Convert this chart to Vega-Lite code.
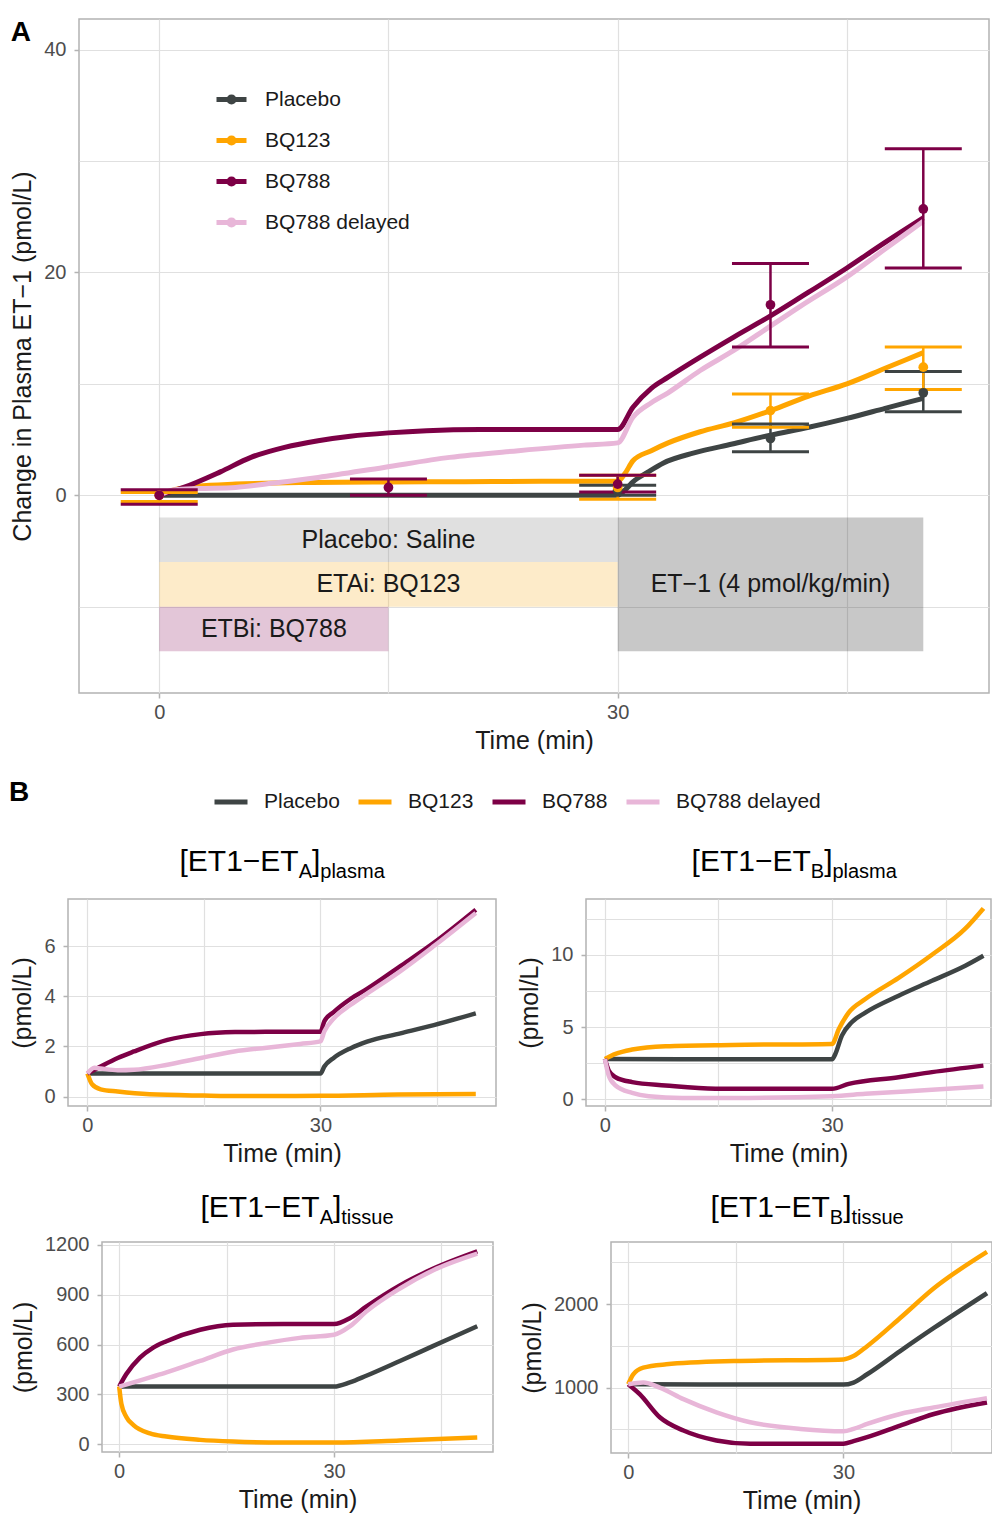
{
  "$schema": "https://vega.github.io/schema/vega-lite/v6.json",
  "padding": {"left": 9, "top": 18, "right": 0, "bottom": 0},
  "background": "white",
  "datasets": {
    "lineA": [
      {"g":"Placebo","t":0,"v":0},{"g":"Placebo","t":10,"v":0},{"g":"Placebo","t":20,"v":0},{"g":"Placebo","t":30,"v":0},{"g":"Placebo","t":30.5,"v":0.5},{"g":"Placebo","t":31,"v":1.2},{"g":"Placebo","t":32,"v":2.1},{"g":"Placebo","t":33,"v":2.9},{"g":"Placebo","t":35,"v":3.8},{"g":"Placebo","t":37.5,"v":4.6},{"g":"Placebo","t":40,"v":5.4},{"g":"Placebo","t":42.5,"v":6.1},{"g":"Placebo","t":45,"v":6.9},{"g":"Placebo","t":47.5,"v":7.8},{"g":"Placebo","t":50,"v":8.7},
      {"g":"BQ123","t":0,"v":0},{"g":"BQ123","t":1,"v":0.5},{"g":"BQ123","t":2.5,"v":0.8},{"g":"BQ123","t":5,"v":1.0},{"g":"BQ123","t":10,"v":1.15},{"g":"BQ123","t":15,"v":1.2},{"g":"BQ123","t":20,"v":1.22},{"g":"BQ123","t":25,"v":1.25},{"g":"BQ123","t":30,"v":1.25},{"g":"BQ123","t":30.5,"v":2.0},{"g":"BQ123","t":31,"v":3.1},{"g":"BQ123","t":32.2,"v":4.0},{"g":"BQ123","t":33.3,"v":4.7},{"g":"BQ123","t":35.4,"v":5.7},{"g":"BQ123","t":37.6,"v":6.5},{"g":"BQ123","t":40,"v":7.6},{"g":"BQ123","t":42.5,"v":8.9},{"g":"BQ123","t":45,"v":10.0},{"g":"BQ123","t":47.5,"v":11.4},{"g":"BQ123","t":50,"v":12.8},
      {"g":"BQ788","t":0,"v":0},{"g":"BQ788","t":1.6,"v":0.7},{"g":"BQ788","t":4,"v":2.1},{"g":"BQ788","t":6,"v":3.4},{"g":"BQ788","t":8.2,"v":4.3},{"g":"BQ788","t":10.4,"v":4.9},{"g":"BQ788","t":12.5,"v":5.3},{"g":"BQ788","t":15,"v":5.6},{"g":"BQ788","t":17.5,"v":5.8},{"g":"BQ788","t":21,"v":5.9},{"g":"BQ788","t":25,"v":5.9},{"g":"BQ788","t":30,"v":5.9},{"g":"BQ788","t":31,"v":7.9},{"g":"BQ788","t":32.2,"v":9.6},{"g":"BQ788","t":33.3,"v":10.6},{"g":"BQ788","t":35.4,"v":12.4},{"g":"BQ788","t":37.6,"v":14.2},{"g":"BQ788","t":40,"v":16.1},{"g":"BQ788","t":42,"v":17.8},{"g":"BQ788","t":45,"v":20.4},{"g":"BQ788","t":47.5,"v":22.7},{"g":"BQ788","t":50,"v":24.9},
      {"g":"BQ788 delayed","t":0,"v":0},{"g":"BQ788 delayed","t":1,"v":0.5},{"g":"BQ788 delayed","t":2.5,"v":0.6},{"g":"BQ788 delayed","t":5,"v":0.7},{"g":"BQ788 delayed","t":7.5,"v":1.1},{"g":"BQ788 delayed","t":10.4,"v":1.6},{"g":"BQ788 delayed","t":14.7,"v":2.5},{"g":"BQ788 delayed","t":19,"v":3.4},{"g":"BQ788 delayed","t":23.5,"v":4.0},{"g":"BQ788 delayed","t":27.8,"v":4.5},{"g":"BQ788 delayed","t":30,"v":4.7},{"g":"BQ788 delayed","t":31,"v":7.0},{"g":"BQ788 delayed","t":32.2,"v":8.3},{"g":"BQ788 delayed","t":33.3,"v":9.2},{"g":"BQ788 delayed","t":35.4,"v":11.2},{"g":"BQ788 delayed","t":37.6,"v":13.0},{"g":"BQ788 delayed","t":39.8,"v":15.0},{"g":"BQ788 delayed","t":42,"v":17.0},{"g":"BQ788 delayed","t":45,"v":19.6},{"g":"BQ788 delayed","t":47.5,"v":22.1},{"g":"BQ788 delayed","t":50,"v":24.6}
    ],
    "obsA": [
      {"g":"Placebo","t":30,"v":0.45,"lo":0.0,"hi":0.9},{"g":"Placebo","t":40,"v":5.1,"lo":3.9,"hi":6.4},{"g":"Placebo","t":50,"v":9.2,"lo":7.5,"hi":11.1},
      {"g":"BQ123","t":0,"v":0,"lo":-0.55,"hi":0.25},{"g":"BQ123","t":30,"v":0.7,"lo":-0.35,"hi":1.8},{"g":"BQ123","t":40,"v":7.6,"lo":6.1,"hi":9.1},{"g":"BQ123","t":50,"v":11.5,"lo":9.5,"hi":13.3},
      {"g":"BQ788","t":0,"v":0,"lo":-0.8,"hi":0.5},{"g":"BQ788","t":15,"v":0.7,"lo":0.0,"hi":1.45},{"g":"BQ788","t":30,"v":1.0,"lo":0.3,"hi":1.8},{"g":"BQ788","t":40,"v":17.1,"lo":13.3,"hi":20.8},{"g":"BQ788","t":50,"v":25.7,"lo":20.4,"hi":31.1}
    ],
    "boxes": [
      {"label":"Placebo: Saline","k":"saline","t0":0,"t1":30,"v0":-6,"v1":-2,"tm":15,"vm":-4},
      {"label":"ETAi: BQ123","k":"eta","t0":0,"t1":30,"v0":-10,"v1":-6,"tm":15,"vm":-8},
      {"label":"ETBi: BQ788","k":"etb","t0":0,"t1":15,"v0":-14,"v1":-10,"tm":7.5,"vm":-12},
      {"label":"ET−1 (4 pmol/kg/min)","k":"et1","t0":30,"t1":50,"v0":-14,"v1":-2,"tm":40,"vm":-8}
    ],
    "tl": [
      {"g":"Placebo","t":0,"v":0.92},{"g":"Placebo","t":10,"v":0.92},{"g":"Placebo","t":20,"v":0.92},{"g":"Placebo","t":30,"v":0.92},{"g":"Placebo","t":30.5,"v":1.2},{"g":"Placebo","t":31.7,"v":1.54},{"g":"Placebo","t":33.9,"v":1.93},{"g":"Placebo","t":36,"v":2.19},{"g":"Placebo","t":40.3,"v":2.52},{"g":"Placebo","t":44.6,"v":2.85},{"g":"Placebo","t":50,"v":3.32},
      {"g":"BQ123","t":0,"v":0.92},{"g":"BQ123","t":0.6,"v":0.49},{"g":"BQ123","t":1.7,"v":0.29},{"g":"BQ123","t":3.9,"v":0.2},{"g":"BQ123","t":8,"v":0.09},{"g":"BQ123","t":15,"v":0.04},{"g":"BQ123","t":20,"v":0.02},{"g":"BQ123","t":30,"v":0.03},{"g":"BQ123","t":40,"v":0.08},{"g":"BQ123","t":50,"v":0.1},
      {"g":"BQ788","t":0,"v":0.92},{"g":"BQ788","t":1.7,"v":1.2},{"g":"BQ788","t":3.9,"v":1.54},{"g":"BQ788","t":6,"v":1.8},{"g":"BQ788","t":10.3,"v":2.26},{"g":"BQ788","t":14.6,"v":2.49},{"g":"BQ788","t":19,"v":2.57},{"g":"BQ788","t":23,"v":2.58},{"g":"BQ788","t":30,"v":2.58},{"g":"BQ788","t":30.5,"v":3.0},{"g":"BQ788","t":31.7,"v":3.37},{"g":"BQ788","t":33.9,"v":3.9},{"g":"BQ788","t":36,"v":4.29},{"g":"BQ788","t":40.3,"v":5.2},{"g":"BQ788","t":44.6,"v":6.13},{"g":"BQ788","t":50,"v":7.45},
      {"g":"BQ788 delayed","t":0,"v":0.92},{"g":"BQ788 delayed","t":0.9,"v":1.15},{"g":"BQ788 delayed","t":1.7,"v":1.12},{"g":"BQ788 delayed","t":3.9,"v":1.05},{"g":"BQ788 delayed","t":6,"v":1.07},{"g":"BQ788 delayed","t":10.3,"v":1.27},{"g":"BQ788 delayed","t":14.6,"v":1.54},{"g":"BQ788 delayed","t":18.9,"v":1.8},{"g":"BQ788 delayed","t":23.1,"v":1.95},{"g":"BQ788 delayed","t":27.4,"v":2.1},{"g":"BQ788 delayed","t":30,"v":2.2},{"g":"BQ788 delayed","t":30.5,"v":2.6},{"g":"BQ788 delayed","t":31.7,"v":3.11},{"g":"BQ788 delayed","t":33.9,"v":3.66},{"g":"BQ788 delayed","t":36,"v":4.1},{"g":"BQ788 delayed","t":40.3,"v":5.0},{"g":"BQ788 delayed","t":44.6,"v":6.0},{"g":"BQ788 delayed","t":50,"v":7.32}
    ],
    "tr": [
      {"g":"Placebo","t":0,"v":2.8},{"g":"Placebo","t":10,"v":2.78},{"g":"Placebo","t":20,"v":2.78},{"g":"Placebo","t":30,"v":2.78},{"g":"Placebo","t":30.4,"v":3.1},{"g":"Placebo","t":31.3,"v":4.41},{"g":"Placebo","t":32.6,"v":5.33},{"g":"Placebo","t":34.4,"v":6.0},{"g":"Placebo","t":38.8,"v":7.17},{"g":"Placebo","t":43.2,"v":8.2},{"g":"Placebo","t":47.6,"v":9.24},{"g":"Placebo","t":50,"v":9.93},
      {"g":"BQ123","t":0,"v":2.8},{"g":"BQ123","t":1.4,"v":3.15},{"g":"BQ123","t":3.6,"v":3.45},{"g":"BQ123","t":8,"v":3.68},{"g":"BQ123","t":16.8,"v":3.77},{"g":"BQ123","t":30,"v":3.84},{"g":"BQ123","t":30.9,"v":4.87},{"g":"BQ123","t":32.2,"v":6.0},{"g":"BQ123","t":34.4,"v":6.94},{"g":"BQ123","t":38.8,"v":8.4},{"g":"BQ123","t":43.2,"v":10.0},{"g":"BQ123","t":47.6,"v":11.8},{"g":"BQ123","t":50,"v":13.2},
      {"g":"BQ788","t":0,"v":2.8},{"g":"BQ788","t":0.5,"v":2.0},{"g":"BQ788","t":1.4,"v":1.54},{"g":"BQ788","t":3.6,"v":1.2},{"g":"BQ788","t":8,"v":0.97},{"g":"BQ788","t":14.6,"v":0.74},{"g":"BQ788","t":21.2,"v":0.74},{"g":"BQ788","t":30,"v":0.74},{"g":"BQ788","t":32.2,"v":1.08},{"g":"BQ788","t":38.8,"v":1.54},{"g":"BQ788","t":43.2,"v":1.89},{"g":"BQ788","t":50,"v":2.34},
      {"g":"BQ788 delayed","t":0,"v":2.8},{"g":"BQ788 delayed","t":0.5,"v":1.66},{"g":"BQ788 delayed","t":1.4,"v":0.97},{"g":"BQ788 delayed","t":3.6,"v":0.46},{"g":"BQ788 delayed","t":5.8,"v":0.23},{"g":"BQ788 delayed","t":10.2,"v":0.11},{"g":"BQ788 delayed","t":16.8,"v":0.11},{"g":"BQ788 delayed","t":30,"v":0.23},{"g":"BQ788 delayed","t":34.4,"v":0.39},{"g":"BQ788 delayed","t":43.2,"v":0.67},{"g":"BQ788 delayed","t":50,"v":0.9}
    ],
    "bl": [
      {"g":"Placebo","t":0,"v":347},{"g":"Placebo","t":10,"v":347},{"g":"Placebo","t":20,"v":347},{"g":"Placebo","t":30,"v":347},{"g":"Placebo","t":32.2,"v":372},{"g":"Placebo","t":34.5,"v":412},{"g":"Placebo","t":39.2,"v":501},{"g":"Placebo","t":43.8,"v":590},{"g":"Placebo","t":50,"v":710},
      {"g":"BQ123","t":0,"v":347},{"g":"BQ123","t":0.3,"v":244},{"g":"BQ123","t":1,"v":164},{"g":"BQ123","t":2,"v":115},{"g":"BQ123","t":4.3,"v":65},{"g":"BQ123","t":6.6,"v":46},{"g":"BQ123","t":11.3,"v":26},{"g":"BQ123","t":15.9,"v":16},{"g":"BQ123","t":22.9,"v":10},{"g":"BQ123","t":30,"v":10},{"g":"BQ123","t":39.2,"v":22},{"g":"BQ123","t":50,"v":40},
      {"g":"BQ788","t":0,"v":347},{"g":"BQ788","t":1,"v":422},{"g":"BQ788","t":2.9,"v":521},{"g":"BQ788","t":4.7,"v":580},{"g":"BQ788","t":6.6,"v":620},{"g":"BQ788","t":11.3,"v":689},{"g":"BQ788","t":15.9,"v":719},{"g":"BQ788","t":22.9,"v":723},{"g":"BQ788","t":30,"v":723},{"g":"BQ788","t":32.2,"v":758},{"g":"BQ788","t":34.5,"v":828},{"g":"BQ788","t":39.2,"v":956},{"g":"BQ788","t":43.8,"v":1055},{"g":"BQ788","t":50,"v":1160},
      {"g":"BQ788 delayed","t":0,"v":347},{"g":"BQ788 delayed","t":2,"v":372},{"g":"BQ788 delayed","t":4.3,"v":402},{"g":"BQ788 delayed","t":6.6,"v":432},{"g":"BQ788 delayed","t":11.3,"v":501},{"g":"BQ788 delayed","t":15.9,"v":570},{"g":"BQ788 delayed","t":20.6,"v":610},{"g":"BQ788 delayed","t":25.2,"v":640},{"g":"BQ788 delayed","t":30,"v":659},{"g":"BQ788 delayed","t":32.2,"v":709},{"g":"BQ788 delayed","t":34.5,"v":798},{"g":"BQ788 delayed","t":39.2,"v":937},{"g":"BQ788 delayed","t":43.8,"v":1046},{"g":"BQ788 delayed","t":50,"v":1147}
    ],
    "br": [
      {"g":"Placebo","t":0,"v":1040},{"g":"Placebo","t":10,"v":1035},{"g":"Placebo","t":20,"v":1035},{"g":"Placebo","t":30,"v":1035},{"g":"Placebo","t":31.4,"v":1060},{"g":"Placebo","t":33.3,"v":1159},{"g":"Placebo","t":37.9,"v":1437},{"g":"Placebo","t":42.6,"v":1714},{"g":"Placebo","t":50,"v":2131},
      {"g":"BQ123","t":0,"v":1040},{"g":"BQ123","t":0.7,"v":1159},{"g":"BQ123","t":2.1,"v":1238},{"g":"BQ123","t":5.3,"v":1278},{"g":"BQ123","t":14.7,"v":1317},{"g":"BQ123","t":30,"v":1337},{"g":"BQ123","t":31.4,"v":1377},{"g":"BQ123","t":33.3,"v":1496},{"g":"BQ123","t":37.9,"v":1833},{"g":"BQ123","t":42.6,"v":2190},{"g":"BQ123","t":50,"v":2627},
      {"g":"BQ788","t":0,"v":1040},{"g":"BQ788","t":1.6,"v":921},{"g":"BQ788","t":4.4,"v":643},{"g":"BQ788","t":7.7,"v":484},{"g":"BQ788","t":12.3,"v":365},{"g":"BQ788","t":17,"v":325},{"g":"BQ788","t":30,"v":325},{"g":"BQ788","t":31.4,"v":357},{"g":"BQ788","t":33.3,"v":405},{"g":"BQ788","t":37.9,"v":544},{"g":"BQ788","t":42.6,"v":683},{"g":"BQ788","t":50,"v":821},
      {"g":"BQ788 delayed","t":0,"v":1040},{"g":"BQ788 delayed","t":2.1,"v":1060},{"g":"BQ788 delayed","t":4.4,"v":1000},{"g":"BQ788 delayed","t":7.7,"v":861},{"g":"BQ788 delayed","t":12.3,"v":702},{"g":"BQ788 delayed","t":17,"v":583},{"g":"BQ788 delayed","t":24,"v":504},{"g":"BQ788 delayed","t":30,"v":476},{"g":"BQ788 delayed","t":31.4,"v":504},{"g":"BQ788 delayed","t":33.3,"v":563},{"g":"BQ788 delayed","t":37.9,"v":683},{"g":"BQ788 delayed","t":42.6,"v":762},{"g":"BQ788 delayed","t":50,"v":873}
    ]
  },
  "columns": 1,
  "spacing": 25,
  "resolve": {"scale": {"color": "independent"}, "legend": {"color": "independent"}},
  "concat": [
    {
      "spacing": 0,
      "resolve": {"scale": {"color": "independent"}, "legend": {"color": "independent"}},
      "hconcat": [
        {"width": 1, "height": 1, "data": {"values": []}, "mark": {"type": "point", "opacity": 0}, "view": {"stroke": null}},
        {
          "width": 910,
          "height": 674,
          "title": {"text": "A", "anchor": "start", "frame": "bounds", "offset": -28, "fontSize": 28, "fontWeight": "bold", "color": "#000000"},
          "layer": [
            {
              "data": {"name": "boxes"},
              "mark": {"type": "rect", "opacity": 0.25},
              "encoding": {
                "x": {"field": "t0", "type": "quantitative", "title": "Time (min)"},
                "x2": {"field": "t1"},
                "y": {"field": "v0", "type": "quantitative", "title": "Change in Plasma ET−1 (pmol/L)"},
                "y2": {"field": "v1"},
                "fill": {"field": "k", "type": "nominal", "scale": {"domain": ["saline", "eta", "etb", "et1"], "range": ["#838383", "#F7AF27", "#8F1B63", "#232323"]}, "legend": null}
              }
            },
            {
              "data": {"name": "boxes"},
              "mark": {"type": "text", "fontSize": 25, "color": "#1A1A1A", "baseline": "middle", "align": "center"},
              "encoding": {
                "x": {"field": "tm", "type": "quantitative", "title": "Time (min)"},
                "y": {"field": "vm", "type": "quantitative", "title": "Change in Plasma ET−1 (pmol/L)"},
                "text": {"field": "label"}
              }
            },
            {
              "data": {"name": "lineA"},
              "mark": {"type": "line", "strokeWidth": 5, "interpolate": "monotone"},
              "encoding": {
                "x": {"field": "t", "type": "quantitative", "title": "Time (min)",
                  "scale": {"domain": [-5.25, 54.3], "nice": false, "zero": false},
                  "axis": {"values": [0, 15, 30, 45], "labelExpr": "datum.value % 30 === 0 ? datum.label : ''", "tickOpacity": {"condition": {"test": "datum.value % 30 !== 0", "value": 0}, "value": 1}}},
                "y": {"field": "v", "type": "quantitative", "title": "Change in Plasma ET−1 (pmol/L)",
                  "scale": {"domain": [-17.75, 42.75], "nice": false, "zero": false},
                  "axis": {"values": [-10, 0, 10, 20, 30, 40], "labelExpr": "datum.value % 20 === 0 ? datum.label : ''", "tickOpacity": {"condition": {"test": "datum.value % 20 !== 0", "value": 0}, "value": 1}}},
                "color": {"field": "g", "type": "nominal", "title": null,
                  "scale": {"domain": ["Placebo", "BQ123", "BQ788", "BQ788 delayed"], "range": ["#3E4444", "#FFA500", "#7D0046", "#E8B6D8"]},
                  "legend": {"orient": "none", "legendX": 135, "legendY": 63, "symbolType": "M-1,0H1M0.17,0A0.17,0.17,0,1,1,-0.17,0A0.17,0.17,0,1,1,0.17,0", "symbolSize": 900, "symbolStrokeWidth": 5, "labelFontSize": 21, "labelColor": "#1A1A1A", "labelOffset": 16, "rowPadding": 10, "padding": 0}}
              }
            },
            {
              "data": {"name": "obsA"},
              "mark": {"type": "rule", "strokeWidth": 2.5},
              "encoding": {
                "x": {"field": "t", "type": "quantitative", "title": "Time (min)"},
                "y": {"field": "lo", "type": "quantitative", "title": "Change in Plasma ET−1 (pmol/L)"},
                "y2": {"field": "hi"},
                "color": {"field": "g", "type": "nominal", "title": null, "legend": null}
              }
            },
            {
              "data": {"name": "obsA"},
              "mark": {"type": "tick", "orient": "horizontal", "size": 77, "thickness": 3, "opacity": 1},
              "encoding": {
                "x": {"field": "t", "type": "quantitative", "title": "Time (min)"},
                "y": {"field": "lo", "type": "quantitative", "title": "Change in Plasma ET−1 (pmol/L)"},
                "color": {"field": "g", "type": "nominal", "title": null, "legend": null}
              }
            },
            {
              "data": {"name": "obsA"},
              "mark": {"type": "tick", "orient": "horizontal", "size": 77, "thickness": 3, "opacity": 1},
              "encoding": {
                "x": {"field": "t", "type": "quantitative", "title": "Time (min)"},
                "y": {"field": "hi", "type": "quantitative", "title": "Change in Plasma ET−1 (pmol/L)"},
                "color": {"field": "g", "type": "nominal", "title": null, "legend": null}
              }
            },
            {
              "data": {"name": "obsA"},
              "mark": {"type": "point", "filled": true, "size": 95, "opacity": 1},
              "encoding": {
                "x": {"field": "t", "type": "quantitative", "title": "Time (min)"},
                "y": {"field": "v", "type": "quantitative", "title": "Change in Plasma ET−1 (pmol/L)"},
                "color": {"field": "g", "type": "nominal", "title": null, "legend": null}
              }
            }
          ]
        }
      ]
    },
    {
      "spacing": 0,
      "resolve": {"scale": {"color": "independent"}, "legend": {"color": "independent"}},
      "title": {"text": "B", "anchor": "start", "frame": "bounds", "offset": -24, "fontSize": 28, "fontWeight": "bold", "color": "#000000"},
      "hconcat": [
        {"width": 1, "height": 1, "data": {"values": []}, "mark": {"type": "point", "opacity": 0}, "view": {"stroke": null}},
        {
          "spacing": 20,
          "hconcat": [
            {
              "width": 428,
              "height": 207,
              "layer": [
                {
                  "data": {"name": "tl"},
                  "mark": {"type": "line", "strokeWidth": 4.5, "interpolate": "monotone"},
                  "encoding": {
                    "x": {"field": "t", "type": "quantitative", "title": "Time (min)", "scale": {"domain": [-2.5, 52.6], "nice": false, "zero": false},
                      "axis": {"values": [0, 15, 30, 45], "labelExpr": "datum.value % 30 === 0 ? datum.label : ''", "tickOpacity": {"condition": {"test": "datum.value % 30 !== 0", "value": 0}, "value": 1}}},
                    "y": {"field": "v", "type": "quantitative", "title": "(pmol/L)", "scale": {"domain": [-0.375, 7.875], "nice": false, "zero": false},
                      "axis": {"values": [0, 1, 2, 3, 4, 5, 6, 7], "labelExpr": "datum.value % 2 === 0 ? datum.label : ''", "tickOpacity": {"condition": {"test": "datum.value % 2 !== 0", "value": 0}, "value": 1}}},
                    "color": {"field": "g", "type": "nominal", "title": null,
                      "scale": {"domain": ["Placebo", "BQ123", "BQ788", "BQ788 delayed"], "range": ["#3E4444", "#FFA500", "#7D0046", "#E8B6D8"]},
                      "legend": {"orient": "none", "direction": "horizontal", "legendX": 144, "legendY": -116, "symbolType": "stroke", "symbolSize": 1089, "symbolStrokeWidth": 5, "labelFontSize": 21, "labelColor": "#1A1A1A", "labelOffset": 14, "columnPadding": 8, "padding": 0}}
                  }
                },
                {"data": {"values": [{}]}, "mark": {"type": "text", "text": "[ET1−ET", "align": "right", "baseline": "alphabetic", "fontSize": 30, "color": "#000000"},
                  "encoding": {"x": {"datum": 27.2, "type": "quantitative"}, "y": {"datum": 8.99, "type": "quantitative"}}},
                {"data": {"values": [{}]}, "mark": {"type": "text", "text": "A", "align": "left", "baseline": "alphabetic", "fontSize": 20, "dy": 7, "color": "#000000"},
                  "encoding": {"x": {"datum": 27.2, "type": "quantitative"}, "y": {"datum": 8.99, "type": "quantitative"}}},
                {"data": {"values": [{}]}, "mark": {"type": "text", "text": "]", "align": "left", "baseline": "alphabetic", "fontSize": 30, "dx": 13.3, "color": "#000000"},
                  "encoding": {"x": {"datum": 27.2, "type": "quantitative"}, "y": {"datum": 8.99, "type": "quantitative"}}},
                {"data": {"values": [{}]}, "mark": {"type": "text", "text": "plasma", "align": "left", "baseline": "alphabetic", "fontSize": 20, "dx": 21.6, "dy": 7, "color": "#000000"},
                  "encoding": {"x": {"datum": 27.2, "type": "quantitative"}, "y": {"datum": 8.99, "type": "quantitative"}}}
              ]
            },
            {
              "width": 405,
              "height": 207,
              "layer": [
                {
                  "data": {"name": "tr"},
                  "mark": {"type": "line", "strokeWidth": 4.5, "interpolate": "monotone"},
                  "encoding": {
                    "x": {"field": "t", "type": "quantitative", "title": "Time (min)", "scale": {"domain": [-2.5, 51], "nice": false, "zero": false},
                      "axis": {"values": [0, 15, 30, 45], "labelExpr": "datum.value % 30 === 0 ? datum.label : ''", "tickOpacity": {"condition": {"test": "datum.value % 30 !== 0", "value": 0}, "value": 1}}},
                    "y": {"field": "v", "type": "quantitative", "title": "(pmol/L)", "scale": {"domain": [-0.45, 13.85], "nice": false, "zero": false},
                      "axis": {"values": [0, 2.5, 5, 7.5, 10, 12.5], "labelExpr": "datum.value % 5 === 0 ? datum.label : ''", "tickOpacity": {"condition": {"test": "datum.value % 5 !== 0", "value": 0}, "value": 1}}},
                    "color": {"field": "g", "type": "nominal", "title": null}
                  }
                },
                {"data": {"values": [{}]}, "mark": {"type": "text", "text": "[ET1−ET", "align": "right", "baseline": "alphabetic", "fontSize": 30, "color": "#000000"},
                  "encoding": {"x": {"datum": 27.2, "type": "quantitative"}, "y": {"datum": 15.78, "type": "quantitative"}}},
                {"data": {"values": [{}]}, "mark": {"type": "text", "text": "B", "align": "left", "baseline": "alphabetic", "fontSize": 20, "dy": 7, "color": "#000000"},
                  "encoding": {"x": {"datum": 27.2, "type": "quantitative"}, "y": {"datum": 15.78, "type": "quantitative"}}},
                {"data": {"values": [{}]}, "mark": {"type": "text", "text": "]", "align": "left", "baseline": "alphabetic", "fontSize": 30, "dx": 13.3, "color": "#000000"},
                  "encoding": {"x": {"datum": 27.2, "type": "quantitative"}, "y": {"datum": 15.78, "type": "quantitative"}}},
                {"data": {"values": [{}]}, "mark": {"type": "text", "text": "plasma", "align": "left", "baseline": "alphabetic", "fontSize": 20, "dx": 21.6, "dy": 7, "color": "#000000"},
                  "encoding": {"x": {"datum": 27.2, "type": "quantitative"}, "y": {"datum": 15.78, "type": "quantitative"}}}
              ]
            }
          ]
        }
      ]
    },
    {
      "spacing": 0,
      "resolve": {"scale": {"color": "independent"}, "legend": {"color": "independent"}},
      "hconcat": [
        {"width": 1, "height": 1, "data": {"values": []}, "mark": {"type": "point", "opacity": 0}, "view": {"stroke": null}},
        {
          "spacing": 25,
          "hconcat": [
            {
              "width": 391,
              "height": 210,
              "layer": [
                {
                  "data": {"name": "bl"},
                  "mark": {"type": "line", "strokeWidth": 4.5, "interpolate": "monotone"},
                  "encoding": {
                    "x": {"field": "t", "type": "quantitative", "title": "Time (min)", "scale": {"domain": [-2.4, 52.2], "nice": false, "zero": false},
                      "axis": {"values": [0, 15, 30, 45], "labelExpr": "datum.value % 30 === 0 ? datum.label : ''", "tickOpacity": {"condition": {"test": "datum.value % 30 !== 0", "value": 0}, "value": 1}}},
                    "y": {"field": "v", "type": "quantitative", "title": "(pmol/L)", "scale": {"domain": [-47, 1217], "nice": false, "zero": false},
                      "axis": {"format": "d", "values": [0, 150, 300, 450, 600, 750, 900, 1050, 1200], "labelExpr": "datum.value % 300 === 0 ? datum.label : ''", "tickOpacity": {"condition": {"test": "datum.value % 300 !== 0", "value": 0}, "value": 1}}},
                    "color": {"field": "g", "type": "nominal", "title": null,
                      "scale": {"domain": ["Placebo", "BQ123", "BQ788", "BQ788 delayed"], "range": ["#3E4444", "#FFA500", "#7D0046", "#E8B6D8"]}, "legend": null}
                  }
                },
                {"data": {"values": [{}]}, "mark": {"type": "text", "text": "[ET1−ET", "align": "right", "baseline": "alphabetic", "fontSize": 30, "color": "#000000"},
                  "encoding": {"x": {"datum": 28.0, "type": "quantitative"}, "y": {"datum": 1367, "type": "quantitative"}}},
                {"data": {"values": [{}]}, "mark": {"type": "text", "text": "A", "align": "left", "baseline": "alphabetic", "fontSize": 20, "dy": 7, "color": "#000000"},
                  "encoding": {"x": {"datum": 28.0, "type": "quantitative"}, "y": {"datum": 1367, "type": "quantitative"}}},
                {"data": {"values": [{}]}, "mark": {"type": "text", "text": "]", "align": "left", "baseline": "alphabetic", "fontSize": 30, "dx": 13.3, "color": "#000000"},
                  "encoding": {"x": {"datum": 28.0, "type": "quantitative"}, "y": {"datum": 1367, "type": "quantitative"}}},
                {"data": {"values": [{}]}, "mark": {"type": "text", "text": "tissue", "align": "left", "baseline": "alphabetic", "fontSize": 20, "dx": 21.6, "dy": 7, "color": "#000000"},
                  "encoding": {"x": {"datum": 28.0, "type": "quantitative"}, "y": {"datum": 1367, "type": "quantitative"}}}
              ]
            },
            {
              "width": 381,
              "height": 211,
              "layer": [
                {
                  "data": {"name": "br"},
                  "mark": {"type": "line", "strokeWidth": 4.5, "interpolate": "monotone"},
                  "encoding": {
                    "x": {"field": "t", "type": "quantitative", "title": "Time (min)", "scale": {"domain": [-2.4, 50.7], "nice": false, "zero": false},
                      "axis": {"values": [0, 15, 30, 45], "labelExpr": "datum.value % 30 === 0 ? datum.label : ''", "tickOpacity": {"condition": {"test": "datum.value % 30 !== 0", "value": 0}, "value": 1}}},
                    "y": {"field": "v", "type": "quantitative", "title": "(pmol/L)", "scale": {"domain": [215, 2745], "nice": false, "zero": false},
                      "axis": {"format": "d", "values": [500, 1000, 1500, 2000, 2500], "labelExpr": "datum.value % 1000 === 0 ? datum.label : ''", "tickOpacity": {"condition": {"test": "datum.value % 1000 !== 0", "value": 0}, "value": 1}}},
                    "color": {"field": "g", "type": "nominal", "title": null, "legend": null}
                  }
                },
                {"data": {"values": [{}]}, "mark": {"type": "text", "text": "[ET1−ET", "align": "right", "baseline": "alphabetic", "fontSize": 30, "color": "#000000"},
                  "encoding": {"x": {"datum": 28.1, "type": "quantitative"}, "y": {"datum": 3045, "type": "quantitative"}}},
                {"data": {"values": [{}]}, "mark": {"type": "text", "text": "B", "align": "left", "baseline": "alphabetic", "fontSize": 20, "dy": 7, "color": "#000000"},
                  "encoding": {"x": {"datum": 28.1, "type": "quantitative"}, "y": {"datum": 3045, "type": "quantitative"}}},
                {"data": {"values": [{}]}, "mark": {"type": "text", "text": "]", "align": "left", "baseline": "alphabetic", "fontSize": 30, "dx": 13.3, "color": "#000000"},
                  "encoding": {"x": {"datum": 28.1, "type": "quantitative"}, "y": {"datum": 3045, "type": "quantitative"}}},
                {"data": {"values": [{}]}, "mark": {"type": "text", "text": "tissue", "align": "left", "baseline": "alphabetic", "fontSize": 20, "dx": 21.6, "dy": 7, "color": "#000000"},
                  "encoding": {"x": {"datum": 28.1, "type": "quantitative"}, "y": {"datum": 3045, "type": "quantitative"}}}
              ]
            }
          ]
        }
      ]
    }
  ],
  "config": {
    "font": "Liberation Sans",
    "view": {"stroke": "#B3B3B3", "strokeWidth": 1.5},
    "axis": {"domain": false, "grid": true, "gridColor": "#E0E0E0", "gridWidth": 1.2, "tickColor": "#B3B3B3", "tickWidth": 1.5, "tickSize": 5, "labelColor": "#4D4D4D", "labelFontSize": 20, "labelPadding": 4, "titleFontSize": 25, "titleFontWeight": "normal", "titleColor": "#1A1A1A", "titlePadding": 6, "labelFlush": false},
    "axisY": {"labelPadding": 8, "titlePadding": 8},
    "legend": {"labelFontSize": 20, "labelColor": "#1A1A1A"}
  }
}
